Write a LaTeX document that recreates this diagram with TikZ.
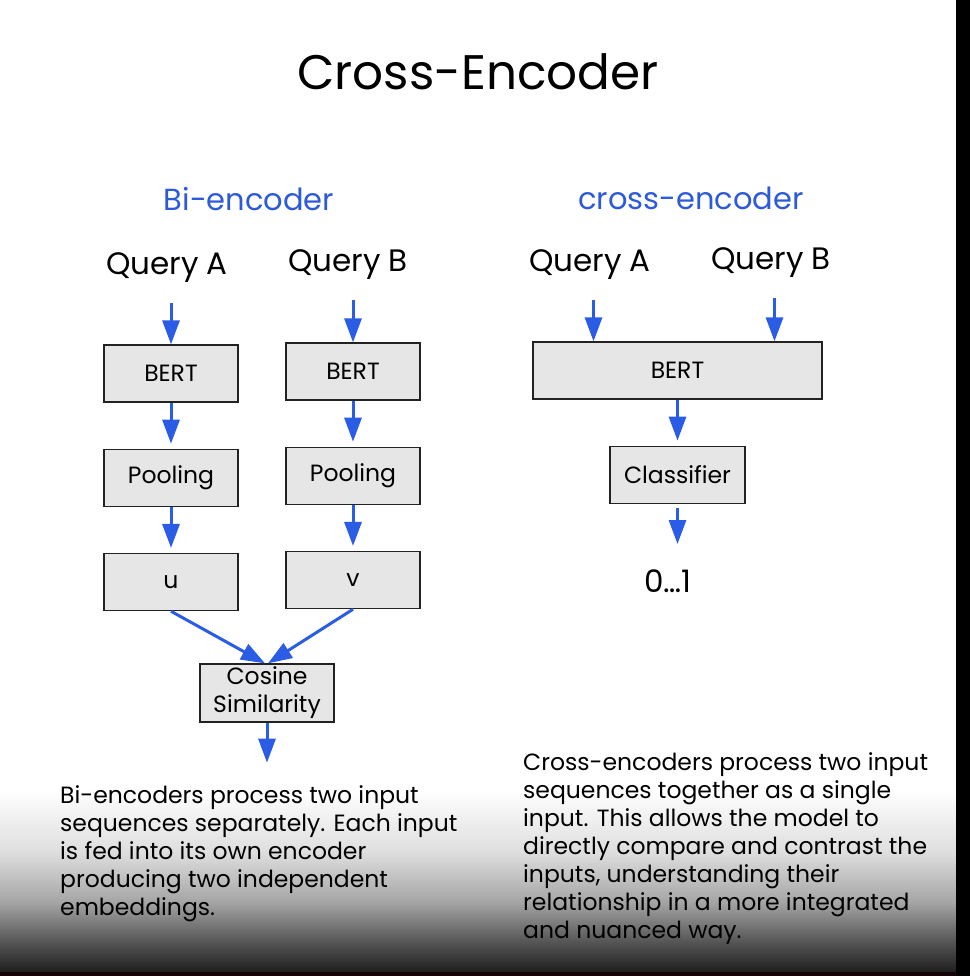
\documentclass[tikz,border=0pt]{standalone}
\usepackage{fontspec}
\setmainfont{Poppins}
\usepackage{tikz}
\usetikzlibrary{arrows.meta}
\usetikzlibrary{positioning}
\usepackage{xcolor}
\definecolor{encblue}{HTML}{2B5CE6}
\definecolor{headblue}{HTML}{2D5AD8}
\definecolor{boxgrey}{HTML}{E6E6E6}
\definecolor{edgegrey}{HTML}{222222}
\definecolor{shadeA}{HTML}{DEDEDE}
\definecolor{shadeB}{HTML}{A5A5A5}
\definecolor{shadeC}{HTML}{555555}
\definecolor{shadeD}{HTML}{1E1E1E}
\definecolor{bottomstrip}{HTML}{140408}

\begin{document}
\begin{tikzpicture}[
        x=1pt, y=-1pt,
        node distance=46pt,
        block/.style={rectangle, draw=edgegrey, fill=boxgrey, line width=1.3pt,
          minimum width=134pt, minimum height=57pt,
          align=center, font=\fontsize{23.5}{28}\selectfont},
        query/.style={font=\fontsize{31}{34}\selectfont},
        heading/.style={font=\fontsize{30.5}{34}\selectfont, text=headblue},
        para/.style={anchor=north west, align=left, inner sep=0pt,
          font=\fontsize{23.5}{28}\selectfont},
        arrow/.style={-{Triangle[length=24pt, width=17pt]}, line width=3pt, draw=encblue},
      ]

      % Background: white page, dark fade at the bottom, black edge
      \useasboundingbox (0,0) rectangle (970,976);
      \fill[white] (0,0) rectangle (970,976);
      \foreach \ya/\yb/\ca/\cb in {790/852/white/shadeA, 852/902/shadeA/shadeB,
          902/942/shadeB/shadeC, 942/972/shadeC/shadeD}
        \shade[top color=\ca, bottom color=\cb] (0,\ya) rectangle (956,\yb);
      \fill[bottomstrip] (0,972) rectangle (970,976);
      \fill[black] (956,0) rectangle (970,976);

      % Title
      \node[font=\fontsize{48.5}{52}\selectfont] (title) at (478,72) {Cross-Encoder};

      % Headings
      \node[heading] (bihead) at (249,199) {Bi-encoder};
      \node[heading] (crosshead) at (691,198) {cross-encoder};

      % Bi-encoder: two separate towers
      \node[query] (qa1) at (167,268) {Query A};
      \node[query] (qb1) at (348,265) {Query B};
      \node[block] (bert1) at (171,373.5) {BERT};
      \node[block, below=of bert1] (pool1) {Pooling};
      \node[block, below=of pool1] (u) {u};
      \node[block] (bert2) at (353,371.5) {BERT};
      \node[block, below=of bert2] (pool2) {Pooling};
      \node[block, below=of pool2] (v) {v};
      \node[block, minimum height=58pt, inner sep=2pt] (cosine) at (267,693)
        {Cosine\\Similarity};
      \coordinate[below=40pt of cosine] (biout);

      % Cross-encoder: one joint tower
      \node[query] (qa2) at (590,265) {Query A};
      \node[query] (qb2) at (771,263) {Query B};
      \node[block, minimum width=289pt] (bert3) at (677.5,370.5) {BERT};
      \node[block, minimum width=135pt, below=of bert3] (classifier) {Classifier};
      \node[query] (score) at (668,581) {0…1};

      % Arrows (bi-encoder)
      \draw[arrow, shorten <=17pt] (qa1.south -| bert1.north) -- (bert1.north);
      \draw[arrow, shorten <=17pt] (qb1.south -| bert2.north) -- (bert2.north);
      \draw[arrow, shorten >=5pt] (bert1) -- (pool1);
      \draw[arrow, shorten >=5pt] (pool1) -- (u);
      \draw[arrow, shorten >=5pt] (bert2) -- (pool2);
      \draw[arrow, shorten >=5pt] (pool2) -- (v);
      \draw[arrow] (u.south) -- ([xshift=-2pt]cosine.north);
      \draw[arrow] (v.south) -- ([xshift=1pt]cosine.north);
      \draw[arrow] (cosine.south) -- (biout);

      % Arrows (cross-encoder)
      \draw[arrow, shorten <=17pt] (qa2.south -| bert3.north) ++(-84pt,0) coordinate (ina)
        (ina) -- (ina |- bert3.north);
      \draw[arrow, shorten <=17pt] (qb2.south -| bert3.north) ++(97pt,0) coordinate (inb)
        (inb) -- (inb |- bert3.north);
      \draw[arrow, shorten >=5pt] (bert3) -- (classifier);
      \draw[arrow, shorten <=4pt, shorten >=22pt] (classifier.south) -- (classifier.south |- score.north);

      % Explanations
      \node[para] (bitext) at (60,785) {Bi-encoders process two input\\
        sequences separately. Each input\\
        is fed into its own encoder\\
        producing two independent\\
        embeddings.};
      \node[para] (crosstext) at (523,752) {Cross-encoders process two input\\
        sequences together as a single\\
        input. This allows the model to\\
        directly compare and contrast the\\
        inputs, understanding their\\
        relationship in a more integrated\\
        and nuanced way.};

      \end{tikzpicture}
\end{document}
